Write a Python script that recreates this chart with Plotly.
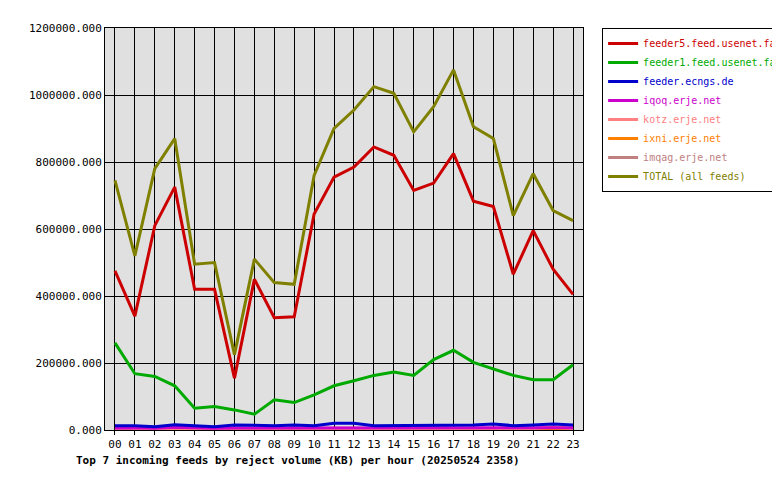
import plotly.graph_objects as go

hours = [f"{h:02d}" for h in range(24)]

feeder5 = [475, 340, 610, 725, 420, 420, 155, 450, 335, 338, 645, 755,
           785, 845, 820, 715, 737, 825, 683, 667, 465, 595, 480, 405]
feeder1 = [260, 168, 160, 132, 65, 70, 60, 47, 90, 82, 105, 132,
           147, 163, 173, 163, 210, 238, 202, 183, 163, 150, 150, 195]
ecngs = [13, 13, 10, 16, 13, 10, 15, 13, 13, 15, 13, 20,
         20, 13, 13, 13, 13, 13, 15, 18, 13, 15, 18, 15]
iqoq = [6, 7, 5, 8, 7, 5, 6, 6, 6, 7, 6, 8, 8, 6, 6, 6, 6, 6, 7, 7, 6, 6, 8, 7]
kotz = [4, 4, 4, 5, 4, 4, 4, 4, 4, 4, 4, 5, 5, 4, 4, 4, 4, 4, 4, 4, 4, 4, 9, 4]
ixni = [3] * 24
imqag = [3, 3, 3, 3, 3, 3, 3, 3, 3, 3, 3, 3, 3, 3, 3, 3, 3, 3, 3, 3, 3, 3, 3, 3]
total = [745, 520, 780, 870, 495, 500, 225, 510, 440, 435, 760, 900,
         955, 1025, 1005, 890, 965, 1075, 905, 870, 640, 765, 655, 625]

series = [
    ("feeder5.feed.usenet.farm", feeder5, "#cc0000"),
    ("feeder1.feed.usenet.farm", feeder1, "#00aa00"),
    ("feeder.ecngs.de", ecngs, "#0000cc"),
    ("iqoq.erje.net", iqoq, "#cc00cc"),
    ("kotz.erje.net", kotz, "#ff8080"),
    ("ixni.erje.net", ixni, "#ff8000"),
    ("imqag.erje.net", imqag, "#c08080"),
    ("TOTAL (all feeds)", total, "#808000"),
]

fig = go.Figure()
# draw in reverse so TOTAL sits underneath, legend keeps original order
for i, (name, vals, col) in reversed(list(enumerate(series))):
    fig.add_trace(go.Scatter(
        x=hours, y=[v * 1000 for v in vals],
        name=f"<span style='color:{col}'>{name}</span>", mode="lines",
        line=dict(color=col, width=3), legendrank=i + 1,
    ))

mono = "DejaVu Sans Mono"
fig.update_layout(
    width=780, height=480,
    paper_bgcolor="white", plot_bgcolor="#e0e0e0",
    margin=dict(l=97, r=205, t=20, b=58, autoexpand=False),
    font=dict(family=mono, size=11, color="black"),
    showlegend=True,
    legend=dict(x=1.04, y=1.0, xanchor="left", yanchor="top",
                bordercolor="black", borderwidth=1, bgcolor="white",
                font=dict(family=mono, size=10),
                itemwidth=30, tracegroupgap=0),
    xaxis=dict(type="category", showgrid=True, gridcolor="black", gridwidth=1,
               showline=True, linecolor="black", mirror=True, ticks="outside",
               ticklen=4, tickcolor="black", range=[-0.5, 23.5], automargin=False),
    yaxis=dict(range=[0, 1200000], dtick=200000, tickformat=".3f",
               showgrid=True, gridcolor="black", gridwidth=1,
               showline=True, linecolor="black", mirror=True, zeroline=False,
               automargin=False),
    annotations=[dict(text="<b>Top 7 incoming feeds by reject volume (KB) per hour (20250524 2358)</b>",
                      xref="paper", yref="paper", x=-0.065, y=-0.055,
                      xanchor="left", yanchor="top", showarrow=False,
                      font=dict(family=mono, size=11))],
)

fig.write_html("out.html")
